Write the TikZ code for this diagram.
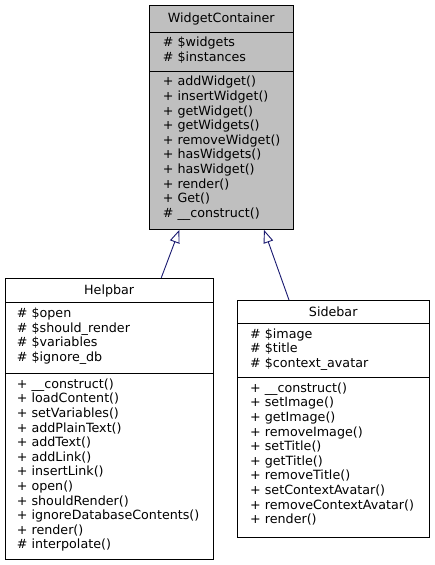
\documentclass[tikz,border=0pt]{standalone}
\usepackage{fontspec}
\setmainfont{DejaVu Sans}
\usetikzlibrary{arrows.meta}
\definecolor{edgeblue}{RGB}{25,25,112}
\definecolor{boxgray}{RGB}{191,191,191}
\tikzset{
  classbox/.style={draw=black, line width=0.9pt, rectangle, inner sep=0pt, anchor=north west},
  sepline/.style={draw=black, line width=0.9pt},
  titletext/.style={anchor=base, inner sep=0pt, font=\fontsize{12.7}{14.6}\selectfont},
  membertext/.style={anchor=north west, inner sep=0pt, align=left, font=\fontsize{12.7}{14.6}\selectfont},
  inherit/.style={draw=edgeblue, line width=0.9pt, -{Triangle[open, length=13pt, width=10pt]}}
}
\begin{document}
\begin{tikzpicture}[x=1pt,y=-1pt]
\useasboundingbox (0,0) rectangle (434,565);
% WidgetContainer
\node[classbox, fill=boxgray, minimum width=144pt, minimum height=224pt] (wc) at (149.3,5) {};
\draw[sepline] (wc.west |- 0,32) -- (wc.east |- 0,32);
\draw[sepline] (wc.west |- 0,71) -- (wc.east |- 0,71);
\node[titletext] (wcT) at (221.3,22) {WidgetContainer};
\node[membertext] (wcA) at (162.7,36.5) {\strut\# \$widgets\\\# \$instances};
\node[membertext] (wcM) at (162.7,75.5) {\strut+ addWidget()\\+ insertWidget()\\+ getWidget()\\+ getWidgets()\\+ removeWidget()\\+ hasWidgets()\\+ hasWidget()\\+ render()\\+ Get()\\\# \_\_construct()};
% Helpbar
\node[classbox, fill=white, minimum width=208.3pt, minimum height=281.6pt] (hp) at (5,277.7) {};
\draw[sepline] (hp.west |- 0,302.7) -- (hp.east |- 0,302.7);
\draw[sepline] (hp.west |- 0,373.3) -- (hp.east |- 0,373.3);
\node[titletext] (hpT) at (109.2,294.7) {Helpbar};
\node[membertext] (hpA) at (16.7,307.2) {\strut\# \$open\\\# \$should\_render\\\# \$variables\\\# \$ignore\_db};
\node[membertext] (hpM) at (16.7,377.8) {\strut+ \_\_construct()\\+ loadContent()\\+ setVariables()\\+ addPlainText()\\+ addText()\\+ addLink()\\+ insertLink()\\+ open()\\+ shouldRender()\\+ ignoreDatabaseContents()\\+ render()\\\# interpolate()};
% Sidebar
\node[classbox, fill=white, minimum width=191.7pt, minimum height=236.7pt] (sb) at (237.3,300) {};
\draw[sepline] (sb.west |- 0,323.3) -- (sb.east |- 0,323.3);
\draw[sepline] (sb.west |- 0,377.3) -- (sb.east |- 0,377.3);
\node[titletext] (sbT) at (333.2,316.4) {Sidebar};
\node[membertext] (sbA) at (250,327.8) {\strut\# \$image\\\# \$title\\\# \$context\_avatar};
\node[membertext] (sbM) at (250,381.8) {\strut+ \_\_construct()\\+ setImage()\\+ getImage()\\+ removeImage()\\+ setTitle()\\+ getTitle()\\+ removeTitle()\\+ setContextAvatar()\\+ removeContextAvatar()\\+ render()};
% Inheritance
\draw[inherit] (161.3,0 |- hp.north) -- (179.3,0 |- wc.south);
\draw[inherit] (289,0 |- sb.north) -- (264,0 |- wc.south);
\end{tikzpicture}
\end{document}
